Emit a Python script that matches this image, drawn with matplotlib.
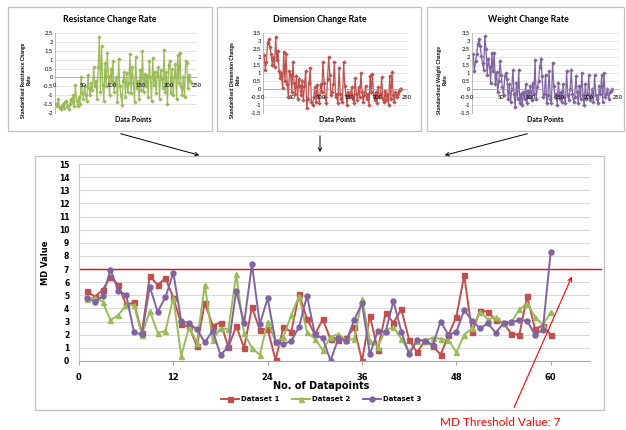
import numpy as np
import matplotlib
matplotlib.use("Agg")
import matplotlib.pyplot as plt
from matplotlib.patches import Rectangle, FancyArrowPatch
from matplotlib.lines import Line2D

W, H = 626, 430

# ---------------- Main chart data ----------------
datapoints = list(range(1, 61))
dataset1 = [5.35, 4.9, 5.4, 6.42, 5.79, 4.26, 4.47, 2.1, 6.47, 5.79, 6.3, 4.82, 2.82, 2.6, 1.15,
            4.44, 2.7, 2.93, 1.06, 2.66, 1.0, 4.1, 2.36, 2.44, 0.08, 2.56, 2.23, 5.08, 3.2, 2.02,
            3.18, 1.65, 1.6, 1.73, 2.56, 0.0, 3.45, 0.84, 3.63, 2.92, 3.93, 1.6, 0.66, 1.52, 1.17,
            0.48, 1.98, 3.38, 6.52, 2.18, 3.83, 3.76, 3.1, 2.87, 2.08, 1.98, 4.92, 2.45, 2.7, 1.98]
dataset2 = [4.72, 4.82, 4.52, 3.12, 3.5, 4.26, 4.26, 1.98, 3.8, 2.16, 2.28, 4.82, 0.4, 2.58, 1.4,
            5.8, 1.6, 2.49, 2.41, 6.62, 2.1, 1.0, 0.46, 3.0, 1.47, 1.8, 3.5, 4.95, 2.2, 1.7,
            0.84, 1.85, 2.03, 1.6, 1.68, 4.72, 1.52, 1.1, 2.36, 2.56, 1.68, 0.71, 1.55, 1.55, 1.78,
            1.68, 1.6, 0.65, 1.98, 2.49, 3.76, 3.17, 3.32, 2.87, 2.94, 3.93, 4.37, 3.38, 2.74, 3.72]
dataset3 = [4.77, 4.52, 4.92, 6.93, 5.36, 5.03, 2.18, 2.03, 5.66, 3.76, 4.85, 6.73, 3.05, 2.87, 2.41,
            1.42, 2.31, 0.46, 1.09, 5.36, 2.87, 7.36, 2.82, 4.77, 1.47, 1.29, 1.52, 2.61, 4.97, 2.03,
            1.73, 0.02, 1.73, 1.52, 3.12, 4.39, 0.5, 2.28, 2.23, 4.57, 2.23, 0.5, 1.6, 1.55, 1.22,
            3.0, 1.98, 2.23, 3.88, 3.07, 2.49, 2.87, 2.16, 2.87, 2.94, 3.12, 3.07, 1.98, 2.38, 8.32]
threshold = 7
series_names = ["Dataset 1", "Dataset 2", "Dataset 3"]
series_colors = ["#C0504D", "#9BBB59", "#8064A2"]
series_markers = ["s", "^", "o"]
main_yticks = list(range(0, 16))
main_xticks = [0, 12, 24, 36, 48, 60]

# ---------------- Mini chart data ----------------
mini_x = list(range(2, 241, 2))
resistance = [-1.5, -1.6, -1.2, -1.7, -1.8, -1.6, -1.5, -1.7, -1.4, -1.3, -1.6, -1.8, -1.5, -1.2, -1.4, -1.0, -1.6, -0.4, -1.3, -1.6,
              -1.1, -1.5, 0.05, -0.9, -1.2, -0.5, -1.0, -1.3, 0.15, -0.6, -1.0, -0.3, -0.7, 0.6, -0.5,
              -0.2, -1.2, 0.6, 2.25, -0.8, 1.75, -0.4, -1.3, 0.8, -0.5, 1.35, 0.1, -1.0, 0.5, -0.2,
              0.95, -0.8, -0.3, 0.0, -1.4, 1.05, -0.5, -1.0, -1.55, -0.2, 0.3, -1.1, 0.25, -0.8, -0.3,
              1.3, -0.9, 0.6, -0.3, -1.4, 1.15, -0.6, -0.2, -1.2, 0.4, -0.7, 1.5, -0.8, 0.2, -0.5,
              0.1, -1.1, 0.9, 0.0, -1.3, 1.1, -0.4, 0.3, -0.9, 0.1, 0.6, -1.2, 0.4, -0.1, -0.6,
              1.55, -0.8, 0.3, -1.5, 0.7, 0.95, -0.9, 0.5, -1.0, 0.0, 0.75, -1.2, 1.25, -0.3, 1.4,
              -0.5, -1.0, 0.05, -1.1, 0.95, 0.8, -0.6, 0.15, -0.2, -0.3]
dimension = [2.1, 1.2, 1.7, 2.9, 3.1, 2.6, 2.2, 1.5, 2.0, 1.4, 3.25, 1.8, 2.4, 1.1, 0.7, 1.0, 0.05, 2.3, 0.5, 2.2,
             0.3, -0.5, 1.1, 0.9, -0.2, 1.7, 0.4, -0.3, 0.8, -0.6, 0.6, 0.2, -0.4, 0.5, -0.7,
             0.2, 1.15, -1.2, -0.6, 0.4, 1.3, -0.8, -1.0, -0.5, 0.1, -0.8, 0.25, -0.4, -0.9, 0.3,
             -0.2, 1.7, 0.4, -0.5, -0.9, 0.6, 2.0, 0.9, -0.4, -0.2, 0.3, 1.7, -0.5, -0.3, -0.9,
             1.3, -0.3, -0.6, -0.8, 1.7, 0.2, -0.4, -1.0, -0.2, -0.5, -0.3, 0.1, -0.6, -0.9, 0.7,
             -0.3, -0.7, 0.1, -0.5, 1.0, -0.2, -0.8, -0.4, 0.2, -0.6, -0.3, -1.0, 0.8, -0.2, 0.95,
             -0.4, -0.7, -0.2, -0.9, 0.1, -0.5, -0.3, 0.75, -0.6, -0.8, -0.1, -0.7, -0.3, -1.0, 0.8,
             -0.6, 1.05, -0.4, -0.8, -0.2, -0.5, -0.3, -0.1, 0.0, 0.0]
weight = [2.2, 1.1, 1.75, 2.2, 2.8, 3.15, 2.7, 2.05, 1.6, 1.2, 3.3, 2.5, 0.9, 1.9, 1.4, 0.4, 2.25, 1.1, 2.25, 0.3,
          1.05, -0.2, 0.5, 1.75, 0.9, 0.1, -0.4, 0.8, 1.0, 0.6, -0.6, 0.3, -0.8, 0.0, 1.2,
          -0.3, -1.1, 0.4, -0.6, 1.2, -0.9, -0.3, -1.0, -0.2, -0.6, 0.3, -0.9, -0.1, -0.5, 0.2,
          -0.7, 0.4, -0.3, 1.8, -0.6, 0.1, 0.5, 1.4, 1.9, 0.8, -0.5, -0.3, 0.9, -0.9, -0.4,
          1.1, -0.6, -0.9, 1.65, 0.2, -0.5, -0.3, -1.0, 0.4, -0.6, -0.2, -0.8, 0.3, -0.5, -0.9,
          1.15, -0.4, -0.7, 0.0, 1.2, -0.3, -0.8, -0.5, 0.8, -0.2, -0.9, 0.2, -0.6, 1.0, -0.4,
          -1.0, 0.3, -0.6, -0.3, 0.85, -0.7, -0.5, 0.0, -0.8, 0.9, -0.4, -0.6, -0.9, 0.2, -0.3,
          0.85, -0.8, 1.0, -0.5, -0.3, 0.0, -0.6, -0.2, -0.1, 0.0]
mini_titles = ["Resistance Change Rate", "Dimension Change Rate", "Weight Change Rate"]
mini_ylabels = ["Standardised Resistance Change\nRate", "Standardised Dimension Change\nRate",
                "Standardised Weight Change\nRate"]
mini_xticks = [0, 50, 100, 150, 200, 250]
mini_yranges = [(-2, 2.5), (-1.5, 3.5), (-1.5, 3.5)]

# ---------------- Helpers ----------------
def fx(x):
    return x / W

def fy(y):
    return 1 - y / H

def rect(x0, y0, x1, y1):
    return [fx(x0), fy(y1), (x1 - x0) / W, (y1 - y0) / H]

fig = plt.figure(figsize=(W / 100, H / 100), dpi=100)
grid_c = "#D9D9D9"
frame_c = "#BFBFBF"

# boxes
for (x0, y0, x1, y1) in [(8, 7, 212, 131), (217, 7, 421, 131), (427, 7, 624, 131), (35, 156, 604, 410)]:
    fig.add_artist(Rectangle((fx(x0), fy(y1)), (x1 - x0) / W, (y1 - y0) / H, transform=fig.transFigure,
                             fill=False, edgecolor=frame_c, lw=0.9))

# ---------------- Mini charts ----------------
mini_series = [resistance, dimension, weight]
mini_colors = [series_colors[1], series_colors[0], series_colors[2]]
mini_boxes = [(55, 33, 197, 113), (263, 33, 407, 113), (472, 33, 618, 113)]
mini_title_pos = [(110, 20), (320, 20), (528, 20)]
mini_ylab_x = [26, 235, 442]
mini_xlab_pos = [(133, 120), (337, 120), (545, 120)]

for k in range(3):
    ax = fig.add_axes(rect(*mini_boxes[k]))
    for s in ["top", "right"]:
        ax.spines[s].set_visible(False)
    ax.spines["bottom"].set_position(("data", 0))
    lo, hi = mini_yranges[k]
    ax.plot(mini_x, mini_series[k], color=mini_colors[k], lw=0.9,
            marker="D", ms=1.9, mew=0.3)
    ax.set_xlim(0, 250)
    ax.set_ylim(lo, hi)
    yt = np.arange(lo, hi + 0.01, 0.5)
    ax.set_yticks(yt)
    ax.set_yticklabels([("%g" % v) for v in yt], fontsize=4.2, family="Lato")
    ax.set_xticks(mini_xticks)
    ax.set_xticklabels([str(v) for v in mini_xticks], fontsize=4.2, family="Lato")
    ax.yaxis.grid(True, color=grid_c, lw=0.5)
    ax.set_axisbelow(True)
    ax.xaxis.set_zorder(3)
    ax.spines["bottom"].set_color("#A0A0A0")
    ax.spines["bottom"].set_linewidth(0.5)
    ax.spines["left"].set_color("#A0A0A0")
    ax.spines["left"].set_linewidth(0.5)
    ax.tick_params(axis="y", length=0, pad=1.5)
    ax.tick_params(axis="x", length=0, pad=4)
    ax.patch.set_alpha(0)
    tx, ty = mini_title_pos[k]
    fig.text(fx(tx), fy(ty), mini_titles[k], ha="center", va="center", fontsize=6.3,
             fontweight="bold", family="Lato")
    fig.text(fx(mini_ylab_x[k]), fy(80), mini_ylabels[k], ha="center", va="center", rotation=90,
             fontsize=3.8, fontweight="bold", family="Lato", linespacing=1.1)
    lx, ly = mini_xlab_pos[k]
    fig.text(fx(lx), fy(ly), "Data Points", ha="center", va="center", fontsize=5,
             fontweight="bold", family="Lato")

# arrows from mini charts to main chart
for (x0, y0, x1, y1) in [(118, 133, 202, 156), (320, 133, 320, 155), (530, 133, 442, 156)]:
    fig.add_artist(FancyArrowPatch((fx(x0), fy(y0)), (fx(x1), fy(y1)),
                   transform=fig.transFigure, arrowstyle="->", mutation_scale=6, lw=0.7, color="black"))

# ---------------- Main chart ----------------
ax = fig.add_axes(rect(79, 164, 590, 361))
main_data = [dataset1, dataset2, dataset3]
for vals, name, c, m in zip(main_data, series_names, series_colors, series_markers):
    ax.plot(datapoints, vals, color=c, lw=1.4, marker=m, ms=3.6, label=name)
ax.axhline(threshold, xmin=0, xmax=(601 - 79) / (590 - 79), color="#FF0000", lw=1.0, clip_on=False, zorder=1)
ax.set_xlim(0, 65)
ax.set_ylim(0, 15)
ax.set_yticks(main_yticks)
ax.set_yticklabels([str(v) for v in main_yticks], fontsize=5.5, fontweight="bold")
ax.set_xticks(main_xticks)
ax.set_xticklabels([str(v) for v in main_xticks], fontsize=6, fontweight="bold")
ax.yaxis.grid(True, color=grid_c, lw=0.8)
ax.set_axisbelow(True)
for s in ["top", "right"]:
    ax.spines[s].set_visible(False)
ax.spines["left"].set_color("#C8C8C8")
ax.spines["bottom"].set_color("#A6A6A6")
ax.tick_params(axis="y", length=0, pad=7)
ax.tick_params(axis="x", length=3, color="#A6A6A6", pad=6)
fig.text(fx(321), fy(386), "No. of Datapoints", ha="center", va="center", fontsize=7, fontweight="bold")
fig.text(fx(46), fy(263), "MD Value", ha="center", va="center", rotation=90, fontsize=6, fontweight="bold")

handles = [Line2D([], [], color=c, lw=1.4, marker=m, ms=3.6) for c, m in zip(series_colors, series_markers)]
fig.legend(handles, series_names, loc="center", bbox_to_anchor=(fx(321), fy(399)), ncol=3, frameon=False,
           prop={"size": 5, "weight": "bold"}, handlelength=2.6, columnspacing=1.8, handletextpad=0.3)

# threshold annotation
fig.add_artist(FancyArrowPatch((fx(513), fy(410)), (fx(573), fy(274)),
               transform=fig.transFigure, arrowstyle="->", mutation_scale=7, lw=0.8, color="#FF0000"))
fig.text(fx(500), fy(423), "MD Threshold Value: " + str(threshold), ha="center", va="center",
         fontsize=8.5, color="#FF0000", family="Lato")

fig.savefig("out.png", dpi=100)
